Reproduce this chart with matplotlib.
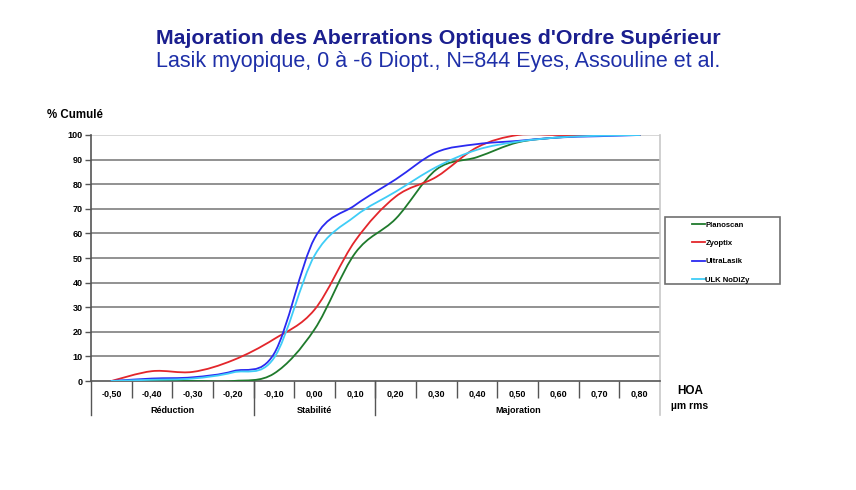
import numpy as np
import matplotlib.pyplot as plt
from matplotlib.path import Path
from matplotlib.patches import PathPatch, Rectangle
from matplotlib.lines import Line2D

plt.rcParams['font.family'] = ['Liberation Sans', 'DejaVu Sans']

categories = ["-0,50", "-0,40", "-0,30", "-0,20", "-0,10", "0,00", "0,10",
              "0,20", "0,30", "0,40", "0,50", "0,60", "0,70", "0,80"]

planoscan = [0, 0, 0, 0, 3, 21, 52, 66, 86, 91, 97, 99, 100, 100]
zyoptix = [0, 4, 3.7, 8.5, 17, 29, 57, 75, 83, 95, 100, 100, 100, 100]
ultralasik = [0, 1, 1.5, 4, 11, 58, 71.5, 82, 93, 96.3, 97.6, 99, 99.5, 100]
ulk_nodizy = [0, 0.5, 1, 3.5, 9.3, 51, 67, 77, 87, 94, 97.3, 99, 99.7, 100]

series = [("Planoscan", planoscan, "#1f7a2c"),
          ("Zyoptix", zyoptix, "#e3262b"),
          ("UltraLasik", ultralasik, "#2a2af0"),
          ("ULK NoDiZy", ulk_nodizy, "#3fcdf7")]

groups = [("Réduction", 0, 3), ("Stabilité", 4, 6), ("Majoration", 7, 13)]


def smooth_path(xs, ys):
    # Catmull-Rom style bezier through the points, like a spreadsheet smoothed line
    p = np.column_stack([xs, ys]).astype(float)
    pp = np.vstack([p[0], p, p[-1]])
    verts = [p[0]]
    codes = [Path.MOVETO]
    for i in range(len(p) - 1):
        p0, p1, p2, p3 = pp[i], pp[i + 1], pp[i + 2], pp[i + 3]
        c1 = p1 + (p2 - p0) / 6
        c2 = p2 - (p3 - p1) / 6
        verts += [c1, c2, p2]
        codes += [Path.CURVE4] * 3
    return Path(verts, codes)


fig = plt.figure(figsize=(8.56, 4.90), dpi=100)
ax = fig.add_axes([91 / 856, 1 - 381 / 490, 569 / 856, 246 / 490])

x = np.arange(len(categories))
handles = []
for name, vals, col in series:
    ax.add_patch(PathPatch(smooth_path(x, vals), fill=False, edgecolor=col,
                           lw=1.3, capstyle='round', joinstyle='round', zorder=3))
    handles.append(Line2D([], [], color=col, lw=1.3, label=name))

ax.set_xlim(-0.5, len(categories) - 0.5)
ax.set_ylim(0, 100)
ax.set_yticks(range(0, 101, 10))
ax.tick_params(axis='y', labelsize=6.5, length=4, width=1, color='#555555', pad=2)
for t in ax.get_yticklabels():
    t.set_fontweight('bold')
for yv in range(10, 100, 10):
    ax.axhline(yv, color='#7f7f7f', lw=1.2, zorder=1)
ax.axhline(100, color='#cfcfcf', lw=1.2, zorder=1)

ax.set_xticks(x)
ax.set_xticklabels(categories, fontsize=6.5, fontweight='bold')
ax.tick_params(axis='x', length=0, pad=6)
ax.set_xticks(np.arange(0.5, len(categories) - 1, 1), minor=True)
ax.tick_params(axis='x', which='minor', length=12, width=1, color='#555555')

for s in ['top', 'right']:
    ax.spines[s].set_visible(False)
ax.spines['left'].set_color('#555555')
ax.spines['bottom'].set_color('#555555')
ax.spines['left'].set_linewidth(1.2)
ax.spines['bottom'].set_linewidth(1.2)

bt = ax.get_xaxis_transform()
ax.plot([len(categories) - 0.5] * 2, [1.0, -34 / 246], transform=bt,
        color='#c8c8c8', lw=1.2, clip_on=False)
for name, a, b in groups:
    ax.text((a + b) / 2, -29 / 246, name, transform=bt, ha='center', va='center',
            fontsize=6.5, fontweight='bold')
    ax.plot([a - 0.5] * 2, [0, -34 / 246], transform=bt, color='#555555',
            lw=1, clip_on=False)

fig.text(47 / 856, 1 - 115 / 490, "% Cumulé", fontsize=8.3, fontweight='bold',
         va='center', ha='left')
fig.text(690 / 856, 1 - 391 / 490, "HOA", fontsize=8.5, fontweight='bold',
         va='center', ha='center')
fig.text(690 / 856, 1 - 406 / 490, "µm rms", fontsize=7.5, fontweight='bold',
         va='center', ha='center')

fig.text(438 / 856, 1 - 38 / 490, "Majoration des Aberrations Optiques d'Ordre Supérieur",
         fontsize=15.4, fontweight='bold', color='#1b1f8f', ha='center', va='center')
fig.text(438 / 856, 1 - 62 / 490, "Lasik myopique, 0 à -6 Diopt., N=844 Eyes, Assouline et al.",
         fontsize=15.5, color='#1e2fa8', ha='center', va='center')

fig.patches.append(Rectangle((665 / 856, 1 - 284 / 490), 115 / 856, 67 / 490,
                             transform=fig.transFigure, fill=False,
                             edgecolor='#707070', lw=1.2))
leg = fig.legend(handles=handles, loc='upper left',
                 bbox_to_anchor=(690 / 856, 1 - 219 / 490), frameon=False,
                 prop={'size': 5.5, 'weight': 'bold'}, handlelength=1.6,
                 handletextpad=0.1, labelspacing=1.45, borderpad=0.3,
                 borderaxespad=0)

fig.savefig("out.png", dpi=100)
